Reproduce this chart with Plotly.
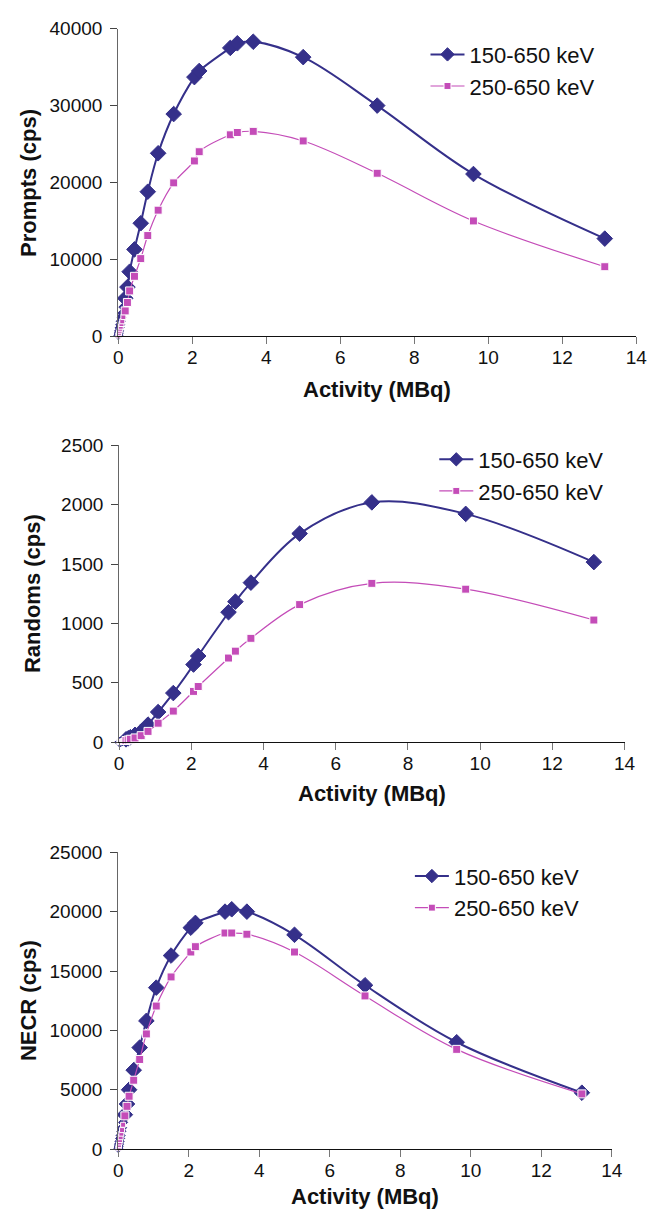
import plotly.graph_objects as go

# ---------------- data ----------------
activity = [0.005, 0.015, 0.025, 0.04, 0.055, 0.07, 0.09, 0.11, 0.14, 0.19,
            0.25, 0.31, 0.44, 0.61, 0.8, 1.08, 1.5, 2.06, 2.19, 3.03, 3.22,
            3.65, 5.0, 7.0, 9.6, 13.15]

series_names = ["150-650 keV", "250-650 keV"]

prompts_150 = [140, 420, 700, 1100, 1500, 1950, 2500, 3000, 3800, 4950,
               6400, 8400, 11300, 14700, 18800, 23800, 28900, 33700, 34500,
               37500, 38100, 38300, 36300, 30000, 21100, 12700]
prompts_250 = [90, 270, 450, 720, 980, 1250, 1600, 1950, 2500, 3300,
               4400, 5900, 7800, 10100, 13100, 16400, 19950, 22800, 24000,
               26200, 26500, 26650, 25400, 21200, 15000, 9050]

randoms_150 = [0, 1, 2, 3, 5, 7, 10, 13, 17, 24,
               33, 42, 62, 90, 148, 254, 414, 654, 726,
               1095, 1184, 1344, 1757, 2020, 1923, 1517]
randoms_250 = [0, 1, 1, 2, 3, 4, 6, 8, 10, 14,
               19, 25, 36, 55, 91, 160, 262, 428, 469,
               709, 767, 875, 1159, 1338, 1289, 1029]

necr_150 = [80, 250, 420, 650, 900, 1150, 1500, 1800, 2250, 2900,
            3800, 5000, 6650, 8550, 10800, 13600, 16300, 18650, 19050,
            20000, 20200, 20000, 18050, 13800, 9000, 4750]
necr_250 = [70, 210, 350, 560, 770, 1000, 1300, 1600, 2050, 2800,
            3600, 4450, 5800, 7550, 9700, 12050, 14500, 16600, 17050,
            18200, 18200, 18100, 16600, 12900, 8400, 4650]

x_range = [0, 14]
x_ticks = [0, 2, 4, 6, 8, 10, 12, 14]
x_title = "Activity (MBq)"

panels = [
    dict(y1=prompts_150, y2=prompts_250, ytitle="Prompts (cps)",
         yrange=[0, 40000], yticks=[0, 10000, 20000, 30000, 40000]),
    dict(y1=randoms_150, y2=randoms_250, ytitle="Randoms (cps)",
         yrange=[0, 2500], yticks=[0, 500, 1000, 1500, 2000, 2500]),
    dict(y1=necr_150, y2=necr_250, ytitle="NECR (cps)",
         yrange=[0, 25000], yticks=[0, 5000, 10000, 15000, 20000, 25000]),
]

# ---------------- layout (pixel geometry) ----------------
W, H = 657, 1223
# plot areas: left, right, top, bottom (px)
boxes = [(116, 647, 19, 332), (117, 635, 443, 745), (116, 622, 857, 1159)]
xtitle_y = [386, 797, 1207]
ytitle_x = [24, 29, 24]
legend_pos = [(431, 24), (440, 436), (415, 860)]

BLUE = "#35308a"
PINK = "#c44cb8"
FONT = "Liberation Sans, Arial, Helvetica, sans-serif"

def px_x(v):
    return v / W

def px_y(v):
    return 1 - v / H

fig = go.Figure()
annotations = []
layout = dict(width=W, height=H, margin=dict(l=0, r=0, t=0, b=0),
              plot_bgcolor="white", paper_bgcolor="white",
              font=dict(family=FONT, size=19, color="#111"))

for i, p in enumerate(panels):
    n = "" if i == 0 else str(i + 1)
    xa, ya = "x" + n, "y" + n
    leg = "legend" + n
    L, R, T, B = boxes[i]
    small = [a < 0.17 for a in activity]
    fig.add_trace(go.Scatter(
        x=activity, y=p["y1"], name=series_names[0], xaxis=xa, yaxis=ya,
        mode="lines+markers", legend=leg, legendgroup=f"a{i}",
        line=dict(color=BLUE, width=2, shape="spline", smoothing=1.0),
        marker=dict(symbol="diamond", color=BLUE, opacity=1,
                    size=[7 if s else 12 for s in small],
                    line=dict(color=BLUE, width=1)),
        cliponaxis=False))
    fig.add_trace(go.Scatter(
        x=activity, y=p["y2"], name=series_names[1], xaxis=xa, yaxis=ya,
        mode="lines+markers", legend=leg, legendgroup=f"b{i}",
        line=dict(color=PINK, width=1.2, shape="spline", smoothing=1.0),
        marker=dict(symbol="square", color=PINK, opacity=1,
                    size=[5 if s else 8 for s in small]),
        cliponaxis=False))

    layout["xaxis" + n] = dict(
        domain=[px_x(L), px_x(R)], anchor=ya, range=x_range,
        tickvals=x_ticks, showgrid=False, zeroline=False,
        showline=True, linecolor="#111", linewidth=1,
        ticks="outside", ticklen=7, tickcolor="#777", tickwidth=1,
        ticklabelstandoff=-3, tickformat="d",
        tickfont=dict(family=FONT, size=19, color="#111"))
    layout["yaxis" + n] = dict(
        domain=[px_y(B), px_y(T)], anchor=xa, range=p["yrange"],
        tickvals=p["yticks"], showgrid=False, zeroline=False,
        showline=True, linecolor="#666", linewidth=1,
        ticks="outside", ticklen=7, tickcolor="#444", tickwidth=1,
        ticklabelstandoff=4, tickformat="d",
        tickfont=dict(family=FONT, size=19, color="#111"))
    lx, ly = legend_pos[i]
    layout[leg] = dict(x=px_x(lx), y=px_y(ly), xanchor="left", yanchor="top",
                       xref="paper", yref="paper", bgcolor="rgba(0,0,0,0)",
                       traceorder="grouped", tracegroupgap=0, itemwidth=34,
                       font=dict(family=FONT, size=22, color="#111"))
    annotations.append(dict(
        text="<b>" + x_title + "</b>", x=px_x((L + R) / 2), y=px_y(xtitle_y[i]),
        xref="paper", yref="paper", showarrow=False, xanchor="center",
        yanchor="middle", font=dict(family=FONT, size=22, color="#111")))
    annotations.append(dict(
        text="<b>" + p["ytitle"] + "</b>", x=px_x(ytitle_x[i]),
        y=px_y((T + B) / 2), xref="paper", yref="paper", showarrow=False,
        textangle=-90, xanchor="center", yanchor="middle",
        font=dict(family=FONT, size=22, color="#111")))

layout["annotations"] = annotations
fig.update_layout(**layout)
fig.write_html("out.html")
